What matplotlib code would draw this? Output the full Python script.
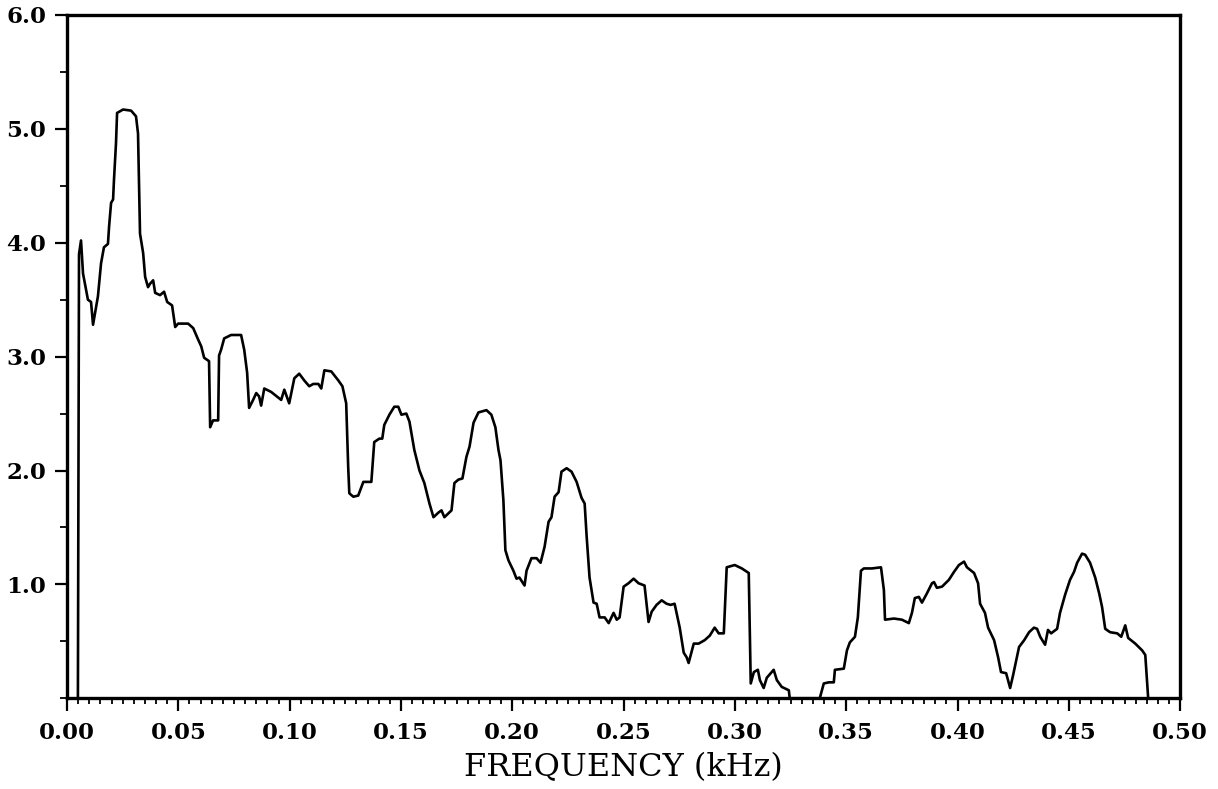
import matplotlib
matplotlib.use("Agg")
import matplotlib.pyplot as plt
from matplotlib.ticker import MultipleLocator, FormatStrFormatter

# spectrum (frequency in kHz, amplitude)
freq = [
    0.0049, 0.0054, 0.0063, 0.0072, 0.0094, 0.0108, 0.0117, 0.0139, 0.0153, 0.0166,
    0.0184, 0.0189, 0.0198, 0.0207, 0.0211, 0.0220, 0.0225, 0.0252, 0.0288, 0.0310,
    0.0319, 0.0328, 0.0342, 0.0351, 0.0364, 0.0373, 0.0387, 0.0396, 0.0418, 0.0436,
    0.0450, 0.0472, 0.0486, 0.0499, 0.0544, 0.0567, 0.0589, 0.0603, 0.0616, 0.0638,
    0.0643, 0.0656, 0.0679, 0.0683, 0.0692, 0.0706, 0.0737, 0.0782, 0.0796, 0.0809,
    0.0818, 0.0836, 0.0850, 0.0863, 0.0872, 0.0886, 0.0917, 0.0962, 0.0976, 0.0989,
    0.0998, 0.1021, 0.1043, 0.1066, 0.1088, 0.1106, 0.1129, 0.1142, 0.1156, 0.1187,
    0.1219, 0.1237, 0.1254, 0.1263, 0.1268, 0.1286, 0.1308, 0.1331, 0.1367, 0.1380,
    0.1403, 0.1416, 0.1425, 0.1448, 0.1470, 0.1488, 0.1502, 0.1524, 0.1538, 0.1560,
    0.1583, 0.1605, 0.1628, 0.1646, 0.1668, 0.1682, 0.1695, 0.1727, 0.1740, 0.1758,
    0.1776, 0.1794, 0.1808, 0.1826, 0.1848, 0.1884, 0.1906, 0.1924, 0.1938, 0.1947,
    0.1960, 0.1969, 0.1983, 0.2005, 0.2019, 0.2032, 0.2055, 0.2064, 0.2086, 0.2109,
    0.2127, 0.2145, 0.2163, 0.2176, 0.2190, 0.2208, 0.2221, 0.2244, 0.2266, 0.2289,
    0.2311, 0.2325, 0.2334, 0.2347, 0.2365, 0.2379, 0.2392, 0.2415, 0.2433, 0.2455,
    0.2469, 0.2482, 0.2500, 0.2522, 0.2545, 0.2567, 0.2594, 0.2612, 0.2626, 0.2648,
    0.2671, 0.2693, 0.2711, 0.2729, 0.2752, 0.2770, 0.2783, 0.2792, 0.2815, 0.2837,
    0.2864, 0.2887, 0.2909, 0.2927, 0.2950, 0.2963, 0.2999, 0.3031, 0.3062, 0.3071,
    0.3085, 0.3103, 0.3112, 0.3129, 0.3143, 0.3174, 0.3188, 0.3210, 0.3242, 0.3246,
    0.3381, 0.3399, 0.3422, 0.3444, 0.3449, 0.3489, 0.3503, 0.3516, 0.3539, 0.3552,
    0.3566, 0.3579, 0.3615, 0.3656, 0.3669, 0.3674, 0.3714, 0.3750, 0.3781, 0.3795,
    0.3808, 0.3826, 0.3840, 0.3862, 0.3885, 0.3894, 0.3907, 0.3930, 0.3961, 0.3984,
    0.4006, 0.4029, 0.4042, 0.4074, 0.4092, 0.4101, 0.4123, 0.4137, 0.4164, 0.4182,
    0.4195, 0.4218, 0.4236, 0.4249, 0.4276, 0.4299, 0.4321, 0.4343, 0.4357, 0.4371,
    0.4393, 0.4406, 0.4420, 0.4447, 0.4460, 0.4483, 0.4505, 0.4523, 0.4537, 0.4559,
    0.4573, 0.4595, 0.4618, 0.4636, 0.4649, 0.4663, 0.4685, 0.4717, 0.4735, 0.4753,
    0.4766, 0.4798, 0.4829, 0.4843, 0.4856,
]
amp = [
    0.00, 3.90, 4.02, 3.73, 3.50, 3.48, 3.28, 3.53, 3.82, 3.96,
    3.99, 4.14, 4.35, 4.38, 4.55, 4.87, 5.14, 5.17, 5.16, 5.11,
    4.96, 4.08, 3.91, 3.70, 3.61, 3.64, 3.67, 3.56, 3.54, 3.57,
    3.48, 3.45, 3.26, 3.29, 3.29, 3.25, 3.15, 3.09, 2.99, 2.96,
    2.38, 2.44, 2.44, 3.01, 3.06, 3.16, 3.19, 3.19, 3.06, 2.86,
    2.55, 2.62, 2.68, 2.65, 2.57, 2.72, 2.69, 2.62, 2.71, 2.64,
    2.59, 2.81, 2.85, 2.79, 2.74, 2.76, 2.76, 2.72, 2.88, 2.87,
    2.79, 2.74, 2.59, 2.03, 1.80, 1.77, 1.78, 1.90, 1.90, 2.25,
    2.28, 2.28, 2.40, 2.49, 2.56, 2.56, 2.49, 2.50, 2.43, 2.18,
    2.00, 1.89, 1.71, 1.59, 1.63, 1.65, 1.59, 1.65, 1.89, 1.92,
    1.93, 2.12, 2.21, 2.42, 2.51, 2.53, 2.49, 2.38, 2.18, 2.09,
    1.74, 1.30, 1.21, 1.12, 1.05, 1.06, 0.99, 1.12, 1.23, 1.23,
    1.19, 1.33, 1.55, 1.59, 1.77, 1.81, 1.99, 2.02, 1.99, 1.90,
    1.76, 1.71, 1.42, 1.06, 0.84, 0.83, 0.71, 0.71, 0.66, 0.75,
    0.69, 0.71, 0.98, 1.01, 1.05, 1.01, 0.99, 0.67, 0.76, 0.82,
    0.86, 0.83, 0.82, 0.83, 0.62, 0.40, 0.36, 0.31, 0.48, 0.48,
    0.51, 0.55, 0.62, 0.57, 0.57, 1.15, 1.17, 1.14, 1.10, 0.13,
    0.23, 0.25, 0.16, 0.09, 0.18, 0.25, 0.16, 0.10, 0.07, 0.00,
    0.00, 0.13, 0.14, 0.14, 0.25, 0.26, 0.42, 0.49, 0.54, 0.71,
    1.12, 1.14, 1.14, 1.15, 0.95, 0.69, 0.70, 0.69, 0.66, 0.75,
    0.88, 0.89, 0.84, 0.92, 1.01, 1.02, 0.97, 0.98, 1.04, 1.11,
    1.17, 1.20, 1.15, 1.10, 1.01, 0.83, 0.75, 0.62, 0.51, 0.36,
    0.23, 0.22, 0.09, 0.20, 0.45, 0.51, 0.58, 0.62, 0.61, 0.54,
    0.47, 0.60, 0.57, 0.61, 0.75, 0.91, 1.04, 1.11, 1.19, 1.27,
    1.26, 1.19, 1.06, 0.92, 0.80, 0.61, 0.58, 0.57, 0.54, 0.64,
    0.53, 0.48, 0.42, 0.38, 0.00,
]

fig = plt.figure(figsize=(12.18, 7.89), dpi=100)
ax = fig.add_axes([0.055, 0.115, 0.914, 0.866])

ax.plot(freq, amp, color="black", lw=1.9)

ax.set_xlim(0, 0.5)
ax.set_ylim(0, 6.0)

ax.xaxis.set_major_locator(MultipleLocator(0.05))
ax.xaxis.set_minor_locator(MultipleLocator(0.005))
ax.xaxis.set_major_formatter(FormatStrFormatter("%.2f"))
ax.yaxis.set_minor_locator(MultipleLocator(0.5))
ax.set_yticks([1, 2, 3, 4, 5, 6])
ax.yaxis.set_major_formatter(FormatStrFormatter("%.1f"))

for s in ax.spines.values():
    s.set_linewidth(2.4)

ax.tick_params(axis="x", which="major", direction="out", length=9, width=1.6, pad=8)
ax.tick_params(axis="x", which="minor", direction="out", length=4, width=1.3)
ax.tick_params(axis="y", which="major", direction="out", length=9, width=1.6, pad=6)
ax.tick_params(axis="y", which="minor", direction="out", length=5, width=1.3)

for lbl in ax.get_xticklabels() + ax.get_yticklabels():
    lbl.set_fontfamily("DejaVu Serif")
    lbl.set_fontweight("bold")
    lbl.set_fontsize(16.5)

ax.set_xlabel("FREQUENCY (kHz)", fontfamily="DejaVu Serif", fontsize=23, labelpad=6)

fig.savefig("out.png", dpi=100)
